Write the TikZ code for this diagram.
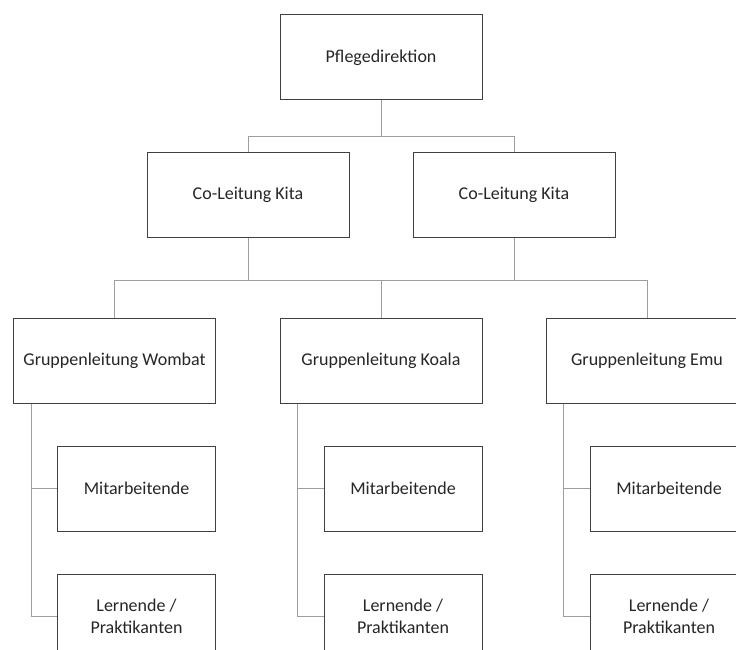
\documentclass[tikz,border=0pt]{standalone}
\usepackage{fontspec}
\setmainfont{Carlito}
\usepackage{tikz}
\usetikzlibrary{positioning, calc}
\tikzset{
    orgbox/.style={draw=black!75, line width=1pt, fill=white, minimum width=202pt, minimum height=85pt, inner sep=0pt, text=black!85, font=\fontsize{18}{22}\selectfont, align=center},
    staffbox/.style={orgbox, minimum width=158pt},
    link/.style={draw=black!38, line width=0.9pt}
}

\begin{document}
\begin{tikzpicture}[x=1pt, y=-1pt]
    \useasboundingbox (0,0) rectangle (736,650);
    \clip (0,0) rectangle (736,650);
    % top levels
    \node[orgbox] (pflege) at (381,57.5) {Pflegedirektion};
    \node[orgbox] (coleft) at (248,194.5) {Co-Leitung Kita};
    \node[orgbox] (coright) at (514,194.5) {Co-Leitung Kita};
    % groups
    \node[orgbox] (wombat) at (114.5,360.5) {Gruppenleitung Wombat};
    \node[orgbox] (koala) at (381,360.5) {Gruppenleitung Koala};
    \node[orgbox] (emu) at (647,360.5) {Gruppenleitung Emu};
    % staff
    \node[staffbox, below left=42pt and 0pt of wombat.south east] (mitwombat) {Mitarbeitende};
    \node[staffbox, below=42pt of mitwombat] (lernwombat) {Lernende /\\Praktikanten};
    \node[staffbox, below left=42pt and 0pt of koala.south east] (mitkoala) {Mitarbeitende};
    \node[staffbox, below=42pt of mitkoala] (lernkoala) {Lernende /\\Praktikanten};
    \node[staffbox, below left=42pt and 0pt of emu.south east] (mitemu) {Mitarbeitende};
    \node[staffbox, below=42pt of mitemu] (lernemu) {Lernende /\\Praktikanten};

    \coordinate (bus1) at ($(pflege.south)+(0,36)$);
    \coordinate (bus2) at ($(koala.north)+(0,-37)$);
    \draw[link] (pflege.south) -- (bus1);
    \draw[link] (coleft.north) |- (bus1) -| (coright.north);
    \draw[link] (coleft.south) -- (coleft.south |- bus2);
    \draw[link] (coright.south) -- (coright.south |- bus2);
    \draw[link] (wombat.north) |- (bus2) -| (emu.north);
    \draw[link] (koala.north) -- (bus2);

    \draw[link] ($(wombat.south west)+(18,0)$) |- (mitwombat.west);
    \draw[link] ($(wombat.south west)+(18,0)$) |- (lernwombat.west);
    \draw[link] ($(koala.south west)+(18,0)$) |- (mitkoala.west);
    \draw[link] ($(koala.south west)+(18,0)$) |- (lernkoala.west);
    \draw[link] ($(emu.south west)+(18,0)$) |- (mitemu.west);
    \draw[link] ($(emu.south west)+(18,0)$) |- (lernemu.west);
\end{tikzpicture}
\end{document}
